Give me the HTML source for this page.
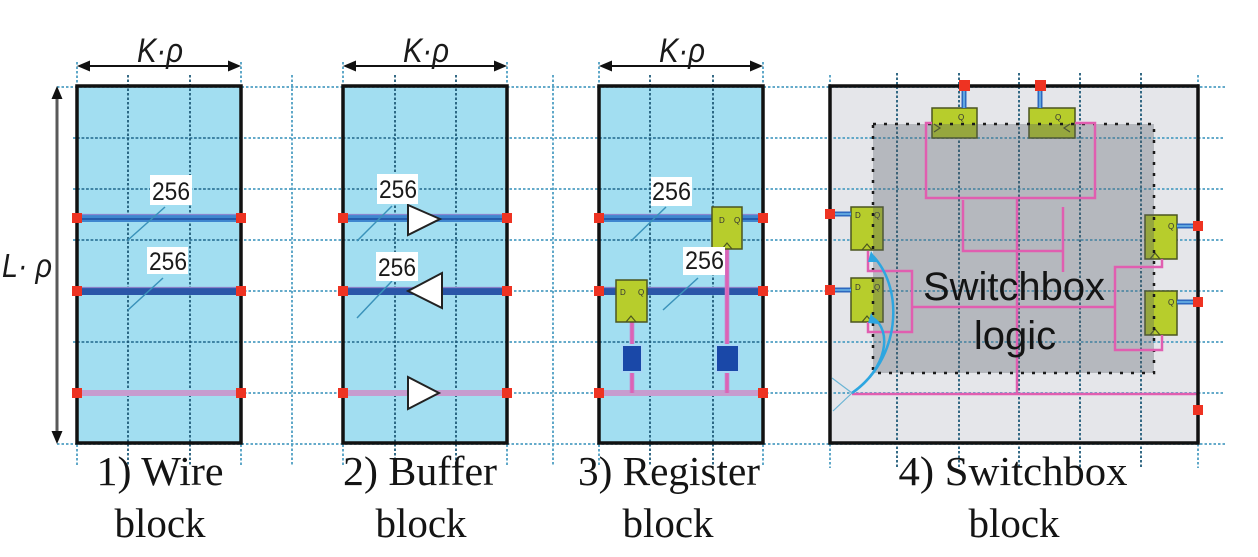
<!DOCTYPE html>
<html><head><meta charset="utf-8"><style>
html,body{margin:0;padding:0;background:#fff;}
svg{display:block}
</style></head><body>
<svg width="1258" height="557" viewBox="0 0 1258 557" xmlns="http://www.w3.org/2000/svg">
<!-- block fills -->
<rect x="77" y="86" width="164" height="357" fill="#a2def1"/>
<rect x="343" y="86" width="164" height="357" fill="#a2def1"/>
<rect x="599" y="86" width="164" height="357" fill="#a2def1"/>
<rect x="830" y="86" width="368" height="357" fill="#e5e6ea"/>

<!-- horizontal grid -->
<g stroke="#4f9fc3" stroke-width="1.8" stroke-dasharray="2.5 2" fill="none">
<line x1="57" y1="87" x2="1225" y2="87"/>
<line x1="73" y1="138" x2="1225" y2="138"/>
<line x1="73" y1="189" x2="1225" y2="189"/>
<line x1="73" y1="240" x2="1225" y2="240"/>
<line x1="73" y1="291" x2="1225" y2="291"/>
<line x1="73" y1="342" x2="1225" y2="342"/>
<line x1="73" y1="393" x2="1225" y2="393"/>
<line x1="57" y1="444" x2="1225" y2="444"/>
</g>
<!-- darker horizontals inside blue blocks -->
<g stroke="#3b7e9e" stroke-width="1.8" stroke-dasharray="2.5 2" fill="none">
<path d="M77 138H241M77 189H241M77 240H241M77 342H241"/>
<path d="M343 138H507M343 189H507M343 240H507M343 342H507"/>
<path d="M599 138H763M599 189H763M599 240H763M599 342H763"/>
</g>
<!-- vertical grid -->
<g stroke="#4f9fc3" stroke-width="1.8" stroke-dasharray="2.5 2" fill="none">
<line x1="77" y1="62" x2="77" y2="465"/>
<line x1="241" y1="62" x2="241" y2="465"/>
<line x1="343" y1="62" x2="343" y2="465"/>
<line x1="507" y1="62" x2="507" y2="465"/>
<line x1="599" y1="62" x2="599" y2="465"/>
<line x1="763" y1="62" x2="763" y2="465"/>
<line x1="292" y1="75" x2="292" y2="465"/>
<line x1="553" y1="75" x2="553" y2="465"/>
<line x1="830" y1="75" x2="830" y2="468"/>
<line x1="1198" y1="75" x2="1198" y2="468"/>
</g>
<g stroke="#1f5a78" stroke-width="1.8" stroke-dasharray="2.5 2" fill="none">
<line x1="128" y1="75" x2="128" y2="465"/>
<line x1="190" y1="75" x2="190" y2="465"/>
<line x1="395" y1="75" x2="395" y2="465"/>
<line x1="456" y1="75" x2="456" y2="465"/>
<line x1="650" y1="75" x2="650" y2="465"/>
<line x1="713" y1="75" x2="713" y2="465"/>
<line x1="897" y1="73" x2="897" y2="468"/>
<line x1="959" y1="73" x2="959" y2="468"/>
<line x1="1019" y1="73" x2="1019" y2="468"/>
<line x1="1080" y1="73" x2="1080" y2="468"/>
<line x1="1141" y1="73" x2="1141" y2="468"/>
</g>

<!-- ===== Switchbox internals ===== -->
<g fill="#b7cd2c" stroke="#4b5520" stroke-width="1.5">
<rect x="851" y="207" width="32" height="43"/>
<rect x="851" y="278" width="32" height="44"/>
<rect x="1145" y="215" width="32" height="44"/>
<rect x="1145" y="291" width="32" height="44"/>
<rect x="932" y="108" width="45" height="30"/>
<rect x="1029" y="108" width="46" height="30"/>
</g>
<g fill="#333" font-family="Liberation Sans, sans-serif" font-size="8">
<text x="855" y="218">D</text><text x="874" y="218">Q</text>
<text x="855" y="290">D</text><text x="874" y="290">Q</text>
<text x="1168" y="229">Q</text>
<text x="1168" y="305">Q</text>
<text x="958" y="120">Q</text>
<text x="1055" y="120">Q</text>
</g>
<g fill="none" stroke="#4b5520" stroke-width="1.2">
<polyline points="862,250 867,244 872,250"/>
<polyline points="862,322 867,316 872,322"/>
<polyline points="1150,259 1155,253 1160,259"/>
<polyline points="1150,335 1155,329 1160,335"/>
<polyline points="934,124 940,128 934,132"/>
<polyline points="1070,124 1064,128 1070,132"/>
</g>

<!-- dark overlay -->
<rect x="873" y="124" width="281" height="249" fill="rgb(85,92,100)" fill-opacity="0.33"/>
<rect x="873" y="124" width="281" height="249" fill="none" stroke="#1a1a1a" stroke-width="2.5" stroke-dasharray="3 8"/>

<!-- pink logic lines -->
<g fill="none" stroke="#e05eb0" stroke-width="2.5">
<path d="M932 123 H926 V198 H1095 V123 H1075"/>
<path d="M1017 198 V394"/>
<path d="M963 200 V251 H1063"/>
<path d="M1063 207 V272"/>
<path d="M868 251 V271 H912 V332 H868 V322"/>
<path d="M912 307 H1115"/>
<path d="M1162 259 V267 H1115 V350 H1162 V335"/>
<path d="M852 394 H1198"/>
</g>

<!-- blue clock curves -->
<g fill="none" stroke="#2ea6e0" stroke-width="2.5">
<path d="M852 393 C 900 360, 905 290, 873 256"/>
<path d="M852 393 C 888 368, 892 330, 873 318"/>
</g>
<polygon points="871,251 878,262 868,262" fill="#2ea6e0"/>
<polygon points="871,313 878,324 868,323" fill="#2ea6e0"/>
<g stroke="#6ab4d4" stroke-width="1.2">
<line x1="852" y1="393" x2="832" y2="378"/>
<line x1="852" y1="393" x2="833" y2="411"/>
</g>

<!-- Switchbox logic text -->
<g font-family="Liberation Sans, sans-serif" font-size="40" fill="#141414" text-anchor="middle">
<text x="1014" y="300" textLength="182" lengthAdjust="spacingAndGlyphs">Switchbox</text>
<text x="1015" y="349">logic</text>
</g>

<!-- switchbox short blue wires -->
<g fill="none">
<g stroke="#2d68bf" stroke-width="5">
<line x1="964" y1="90" x2="964" y2="108"/>
<line x1="1040" y1="90" x2="1040" y2="108"/>
<line x1="834" y1="214" x2="851" y2="214"/>
<line x1="834" y1="290" x2="851" y2="290"/>
<line x1="1177" y1="226" x2="1194" y2="226"/>
<line x1="1177" y1="302" x2="1194" y2="302"/>
</g>
<g stroke="#7cc8f0" stroke-width="1.3">
<line x1="964" y1="90" x2="964" y2="108"/>
<line x1="1040" y1="90" x2="1040" y2="108"/>
<line x1="834" y1="214" x2="851" y2="214"/>
<line x1="834" y1="290" x2="851" y2="290"/>
<line x1="1177" y1="226" x2="1194" y2="226"/>
<line x1="1177" y1="302" x2="1194" y2="302"/>
</g>
</g>

<!-- ===== Wires in blocks 1-3 ===== -->
<g>
<rect x="77" y="214" width="164" height="8" fill="#3f86cf"/>
<rect x="343" y="214" width="164" height="8" fill="#3f86cf"/>
<rect x="599" y="214" width="164" height="8" fill="#3f86cf"/>
<g stroke="#1d4fa0" stroke-width="1.6">
<line x1="77" y1="219" x2="241" y2="219"/>
<line x1="343" y1="219" x2="507" y2="219"/>
<line x1="599" y1="219" x2="763" y2="219"/>
</g>
<g stroke="#8a86d0" stroke-width="1.2">
<line x1="77" y1="214.5" x2="241" y2="214.5"/>
<line x1="343" y1="214.5" x2="507" y2="214.5"/>
<line x1="599" y1="214.5" x2="763" y2="214.5"/>
</g>
<rect x="77" y="287" width="164" height="8" fill="#2a56a8"/>
<rect x="343" y="287" width="164" height="8" fill="#2a56a8"/>
<rect x="599" y="287" width="164" height="8" fill="#2a56a8"/>
<g stroke="#8a80c8" stroke-width="1.2">
<line x1="77" y1="287.5" x2="241" y2="287.5"/>
<line x1="343" y1="287.5" x2="507" y2="287.5"/>
<line x1="599" y1="287.5" x2="763" y2="287.5"/>
</g>
<rect x="77" y="390" width="164" height="6" fill="#c79ccf"/>
<rect x="343" y="390" width="164" height="6" fill="#c79ccf"/>
<rect x="599" y="390" width="164" height="6" fill="#c79ccf"/>
</g>

<!-- 256 slashes -->
<g stroke="#3a92ba" stroke-width="1.5">
<line x1="128" y1="240" x2="165" y2="207"/>
<line x1="128" y1="310" x2="163" y2="278"/>
<line x1="357" y1="241" x2="392" y2="206"/>
<line x1="357" y1="318" x2="392" y2="281"/>
<line x1="631" y1="241" x2="666" y2="207"/>
<line x1="663" y1="310" x2="698" y2="278"/>
</g>

<!-- Buffer triangles -->
<g fill="#fff" stroke="#222" stroke-width="2" stroke-linejoin="miter">
<polygon points="408,205 408,235 440,219"/>
<polygon points="442,273 442,308 408,291"/>
<polygon points="408,377 408,409 439,393"/>
</g>

<!-- Register block -->
<g stroke="#d271c2" stroke-width="4.5" fill="none">
<line x1="727" y1="249" x2="727" y2="393"/>
<line x1="632" y1="322" x2="632" y2="393"/>
</g>
<g stroke="#e060b0" stroke-width="1.5" fill="none">
<line x1="727" y1="249" x2="727" y2="393"/>
<line x1="632" y1="322" x2="632" y2="393"/>
</g>
<g fill="#b7cd2c" stroke="#4b5520" stroke-width="1.5">
<rect x="712" y="207" width="30" height="42"/>
<rect x="616" y="280" width="31" height="42"/>
</g>
<g fill="#333" font-family="Liberation Sans, sans-serif" font-size="8">
<text x="719" y="223">D</text><text x="734" y="223">Q</text>
<text x="620" y="295">D</text><text x="638" y="295">Q</text>
</g>
<g fill="none" stroke="#4b5520" stroke-width="1.2">
<polyline points="722,249 727,243 732,249"/>
<polyline points="626,322 631,316 636,322"/>
</g>
<g fill="#1a48a8" stroke="#a8d8f4" stroke-width="2">
<rect x="622" y="345" width="20" height="27"/>
<rect x="716" y="345" width="23" height="27"/>
</g>

<!-- 256 labels -->
<g fill="#fff">
<rect x="150" y="175" width="42" height="30"/>
<rect x="147" y="247" width="41" height="27"/>
<rect x="377" y="174" width="41" height="30"/>
<rect x="376" y="252" width="42" height="29"/>
<rect x="651" y="177" width="41" height="29"/>
<rect x="683" y="247" width="42" height="28"/>
</g>
<g font-family="Liberation Sans, sans-serif" font-size="25" fill="#1a1a1a">
<text x="152" y="200" textLength="38" lengthAdjust="spacingAndGlyphs">256</text>
<text x="149" y="270" textLength="38" lengthAdjust="spacingAndGlyphs">256</text>
<text x="379" y="198" textLength="38" lengthAdjust="spacingAndGlyphs">256</text>
<text x="378" y="276" textLength="38" lengthAdjust="spacingAndGlyphs">256</text>
<text x="652" y="200" textLength="39" lengthAdjust="spacingAndGlyphs">256</text>
<text x="685" y="269" textLength="39" lengthAdjust="spacingAndGlyphs">256</text>
</g>

<!-- block borders -->
<g fill="none" stroke="#111" stroke-width="3.5">
<rect x="77" y="86" width="164" height="357"/>
<rect x="343" y="86" width="164" height="357"/>
<rect x="599" y="86" width="164" height="357"/>
<rect x="830" y="86" width="368" height="357"/>
</g>

<!-- red ports -->
<g fill="#ee3322">
<rect x="72" y="213" width="10" height="10"/><rect x="236" y="213" width="10" height="10"/>
<rect x="72" y="286" width="10" height="10"/><rect x="236" y="286" width="10" height="10"/>
<rect x="72" y="388" width="10" height="10"/><rect x="236" y="388" width="10" height="10"/>
<rect x="338" y="213" width="10" height="10"/><rect x="502" y="213" width="10" height="10"/>
<rect x="338" y="286" width="10" height="10"/><rect x="502" y="286" width="10" height="10"/>
<rect x="338" y="388" width="10" height="10"/><rect x="502" y="388" width="10" height="10"/>
<rect x="594" y="213" width="10" height="10"/><rect x="758" y="213" width="10" height="10"/>
<rect x="594" y="286" width="10" height="10"/><rect x="758" y="286" width="10" height="10"/>
<rect x="594" y="388" width="10" height="10"/><rect x="758" y="388" width="10" height="10"/>
<rect x="959" y="80" width="11" height="11"/>
<rect x="1035" y="80" width="11" height="11"/>
<rect x="825" y="209" width="10" height="10"/>
<rect x="825" y="285" width="10" height="10"/>
<rect x="1193" y="221" width="10" height="10"/>
<rect x="1193" y="297" width="10" height="10"/>
<rect x="1193" y="405" width="10" height="10"/>
</g>

<!-- K·rho dimension arrows -->
<g stroke="#111" stroke-width="2">
<line x1="85" y1="66" x2="233" y2="66"/>
<line x1="351" y1="66" x2="499" y2="66"/>
<line x1="607" y1="66" x2="755" y2="66"/>
</g>
<g fill="#111">
<polygon points="77,66 90,60.5 90,71.5"/><polygon points="241,66 228,60.5 228,71.5"/>
<polygon points="343,66 356,60.5 356,71.5"/><polygon points="507,66 494,60.5 494,71.5"/>
<polygon points="599,66 612,60.5 612,71.5"/><polygon points="763,66 750,60.5 750,71.5"/>
</g>
<g font-family="Liberation Sans, sans-serif" font-style="italic" font-size="34" fill="#1a1a1a" text-anchor="middle">
<text x="160" y="62" textLength="46" lengthAdjust="spacingAndGlyphs">K·ρ</text>
<text x="426" y="62" textLength="46" lengthAdjust="spacingAndGlyphs">K·ρ</text>
<text x="682" y="62" textLength="46" lengthAdjust="spacingAndGlyphs">K·ρ</text>
</g>

<!-- L·rho arrow -->
<line x1="57" y1="96" x2="57" y2="434" stroke="#5a5a5a" stroke-width="3"/>
<polygon points="57,86 51.5,99 62.5,99" fill="#111"/>
<polygon points="57,444 51.5,431 62.5,431" fill="#111"/>
<text x="2" y="277" font-family="Liberation Sans, sans-serif" font-style="italic" font-size="33" fill="#1a1a1a" textLength="50" lengthAdjust="spacingAndGlyphs">L· ρ</text>

<!-- captions -->
<g font-family="Liberation Serif, serif" font-size="41" fill="#141414" text-anchor="middle">
<text x="160" y="485" textLength="127" lengthAdjust="spacingAndGlyphs">1) Wire</text>
<text x="160" y="537">block</text>
<text x="420" y="485" textLength="154" lengthAdjust="spacingAndGlyphs">2) Buffer</text>
<text x="421" y="537">block</text>
<text x="669" y="485" textLength="182" lengthAdjust="spacingAndGlyphs">3) Register</text>
<text x="668" y="537">block</text>
<text x="1013" y="485" textLength="229" lengthAdjust="spacingAndGlyphs">4) Switchbox</text>
<text x="1014" y="537">block</text>
</g>
</svg>
</body></html>
